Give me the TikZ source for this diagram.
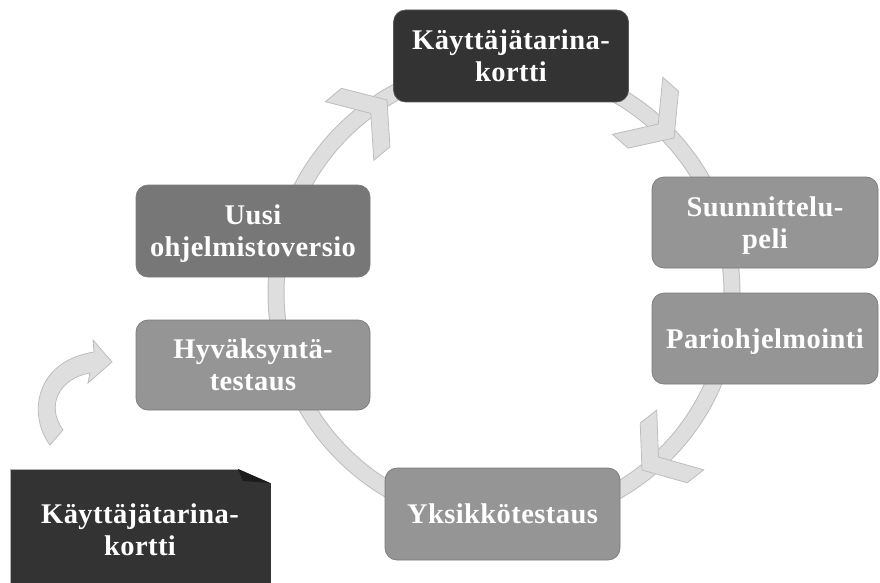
\documentclass[tikz,border=0pt]{standalone}
\usepackage{fontspec}
\setmainfont{Liberation Serif}
\newfontfamily\lblfont[LetterSpace=1.5]{Liberation Serif}
\usetikzlibrary{calc}

\definecolor{ringfill}{HTML}{DEDEDE}
\definecolor{ringedge}{HTML}{BDBDBD}
\definecolor{darkbox}{HTML}{333333}
\definecolor{midbox}{HTML}{959595}
\definecolor{deepbox}{HTML}{777777}
\definecolor{boxedge}{HTML}{7A7A7A}
\definecolor{foldshade}{HTML}{1C1C1C}

\tikzset{
  stage/.style={rounded corners=12pt, draw=boxedge, line width=0.7pt,
    fill=midbox, text=white, align=center, inner sep=0pt, text depth=0pt,
    font=\lblfont\bfseries\fontsize{28.5}{32}\selectfont},
  chevron/.style={fill=ringfill, draw=ringedge, line width=0.8pt, line join=miter},
  cardtext/.style={text=white, align=center, inner sep=0pt, text depth=0pt,
    font=\lblfont\bfseries\fontsize{28.5}{32}\selectfont},
}

% one arrowhead of the cycle: apex at the origin, pointing along +x
\newcommand{\cyclehead}[2]{%
  \begin{scope}[shift={#1}, rotate=#2]
    \draw[chevron] (0,0) -- (-27.6,38) -- (-48.6,38) -- (-21,0)
      -- (-48.6,-38) -- (-27.6,-38) -- cycle;
  \end{scope}}

\begin{document}
\begin{tikzpicture}[x=1pt, y=-1pt]
  \useasboundingbox (0,0) rectangle (880,583);

  % cycle ring
  \draw[ringedge, line width=17pt] (504,293) circle[radius=228pt];
  \draw[ringfill, line width=15pt] (504,293) circle[radius=228pt];

  % arrowheads along the ring (clockwise)
  \cyclehead{(387,100)}{39.6}
  \cyclehead{(674,138)}{-41.5}
  \cyclehead{(642,470)}{218.2}

  % stages
  \node[stage, fill=darkbox, draw=gray!70!black, minimum width=235pt, minimum height=92pt]
    (story) at (511,56) {Käyttäjätarina-\\kortti};
  \node[stage, minimum width=226pt, minimum height=91pt]
    (planning) at (765,222.5) {Suunnittelu-\\peli};
  \node[stage, minimum width=226pt, minimum height=91pt]
    (pair) at (765,338.5) {Pariohjelmointi};
  \node[stage, minimum width=235pt, minimum height=92pt]
    (unit) at (502.5,514) {Yksikkötestaus};
  \node[stage, minimum width=234pt, minimum height=90pt]
    (accept) at (253,365) {Hyväksyntä-\\testaus};
  \node[stage, fill=deepbox, minimum width=234pt, minimum height=92pt]
    (release) at (253,231) {Uusi\\ohjelmistoversio};

  % curved arrow feeding the acceptance tests
  \draw[chevron] (50,445) .. controls (29,418) and (32,362) .. (94,352)
    -- (93,340) -- (112,362) -- (88,383) -- (90,373)
    .. controls (60,378) and (45,405) .. (63,430) -- cycle;

  % story card with a folded corner
  \fill[darkbox] (10,469) -- (238,469) -- (270,483) -- (270,590) -- (10,590) -- cycle;
  \draw[gray!60, line width=0.7pt] (10,590) -- (10,469) -- (238,469);
  \draw[gray!40!black, line width=0.7pt] (270,483) -- (270,590);
  \fill[foldshade] (238,469) -- (270,483) -- (243,481) -- cycle;
  \node[cardtext] (card) at (140,530) {Käyttäjätarina-\\kortti};
\end{tikzpicture}
\end{document}
